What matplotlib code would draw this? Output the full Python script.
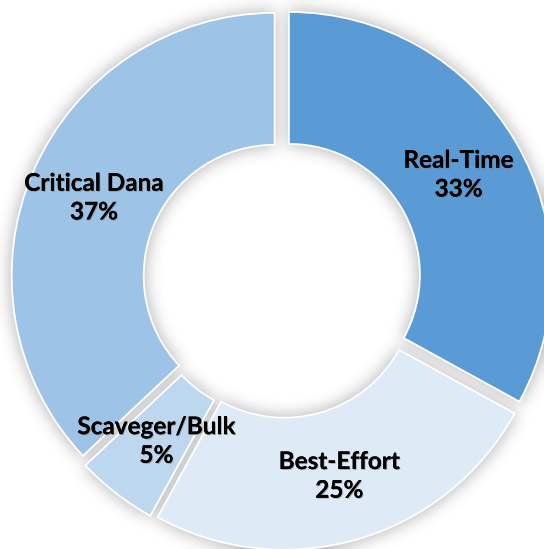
import matplotlib
matplotlib.use("Agg")
import numpy as np
import matplotlib.pyplot as plt
from matplotlib.patches import Wedge
import matplotlib.patheffects as pe

categories = ["Real-Time", "Best-Effort", "Scaveger/Bulk", "Critical Dana"]
values = [33, 25, 5, 37]
colors = ["#5B9BD5", "#DEEBF7", "#BDD7EE", "#9DC3E6"]

W, H = 544, 549
fig = plt.figure(figsize=(W / 100, H / 100), dpi=100)
ax = fig.add_axes([0, 0, 1, 1])

R = 263
ring = 132
center = (282, 270)
explode = [8] * len(values)

label_iter = iter(categories)

def fmt(p):
    return f"{next(label_iter)}\n{p:.0f}%"

wedges, texts, autotexts = ax.pie(
    values, colors=colors, startangle=90, counterclock=False,
    radius=R, center=center, explode=explode,
    wedgeprops=dict(width=ring, edgecolor="white", linewidth=1.3, zorder=3),
    autopct=fmt, pctdistance=197 / R,
    textprops=dict(fontfamily=["Lato", "DejaVu Sans"], fontweight="bold",
                   fontsize=17.5, color="black", linespacing=1.3),
)

# soft blurred shadow: render slice silhouettes off-screen and blur them
sfig = plt.figure(figsize=(W / 100, H / 100), dpi=100)
sax = sfig.add_axes([0, 0, 1, 1])
for w in wedges:
    sax.add_patch(Wedge(w.center, w.r + 2, w.theta1, w.theta2, width=w.width + 4,
                        facecolor="black", edgecolor="none"))
sax.set_xlim(0, W)
sax.set_ylim(0, H)
sax.set_aspect("equal")
sax.axis("off")
sfig.canvas.draw()
buf = np.asarray(sfig.canvas.buffer_rgba())[:, :, 0].astype(float)
plt.close(sfig)
mask = 1.0 - buf / 255.0

def box_blur(a, r, axis):
    pad = [(0, 0), (0, 0)]
    pad[axis] = (r, r)
    ap = np.pad(a, pad, mode="edge")
    c = np.cumsum(ap, axis=axis)
    c = np.insert(c, 0, 0, axis=axis)
    n = a.shape[axis]
    hi = np.take(c, np.arange(2 * r + 1, 2 * r + 1 + n), axis=axis)
    lo = np.take(c, np.arange(0, n), axis=axis)
    return (hi - lo) / (2 * r + 1)

blur = mask
for _ in range(3):
    blur = box_blur(blur, 7, 0)
    blur = box_blur(blur, 7, 1)

shadow = np.zeros((H, W, 4))
shadow[..., :3] = 0.33
shadow[..., 3] = np.clip(blur * 0.42, 0, 1)
ax.imshow(shadow, extent=(0, W, 0, H), origin="upper", zorder=1, interpolation="bilinear")

for t in autotexts:
    t.set_ha("center")
    t.set_va("center")
    t.set_zorder(5)
    t.set_path_effects([pe.withSimplePatchShadow(offset=(0.7, -0.7), shadow_rgbFace=(0.45, 0.45, 0.45), alpha=0.5), pe.Normal()])

ax.set_xlim(0, W)
ax.set_ylim(0, H)
ax.set_aspect("equal")
ax.axis("off")
fig.savefig("out.png", dpi=100, facecolor="white")
